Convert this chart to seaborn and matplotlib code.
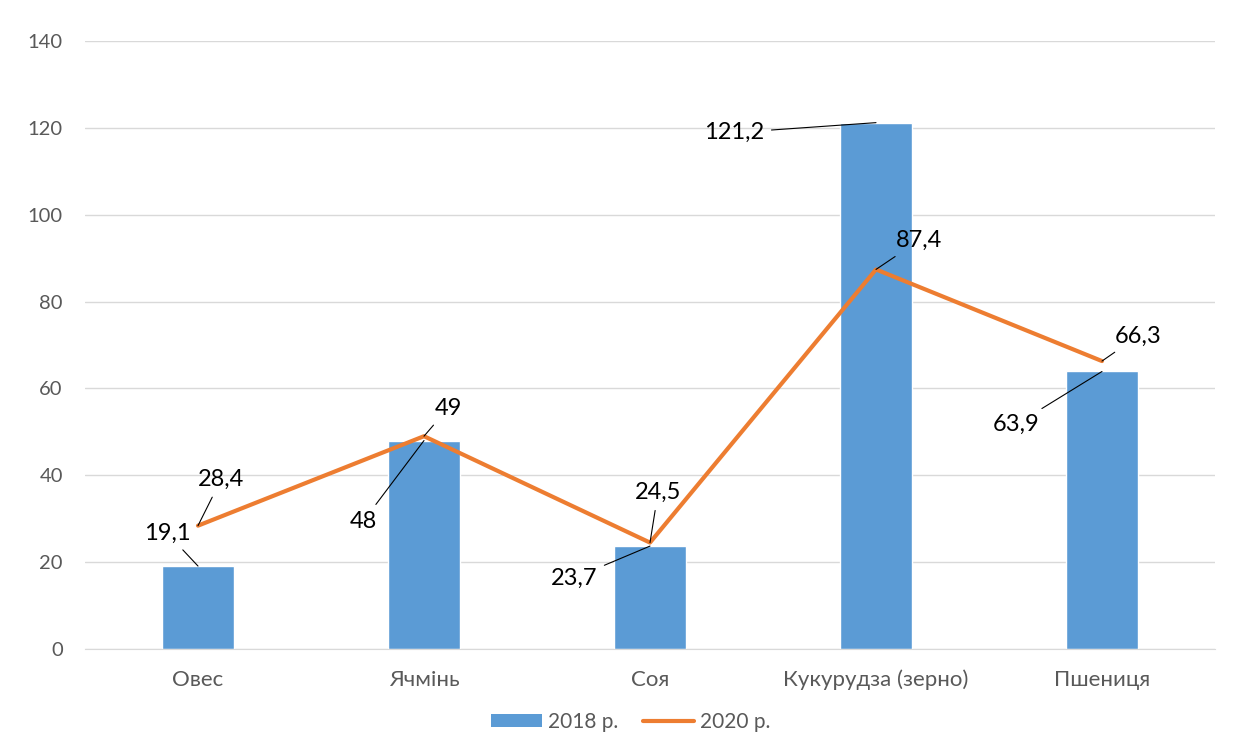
import numpy as np
import pandas as pd
import seaborn as sns
import matplotlib.pyplot as plt
from matplotlib.patches import Patch
from matplotlib.lines import Line2D

crops = ['Овес', 'Ячмінь', 'Соя', 'Кукурудза (зерно)', 'Пшениця']
values_2018 = [19.1, 48, 23.7, 121.2, 63.9]
values_2020 = [28.4, 49, 24.5, 87.4, 66.3]
labels_2018 = ['19,1', '48', '23,7', '121,2', '63,9']
labels_2020 = ['28,4', '49', '24,5', '87,4', '66,3']
series_names = ['2018 р.', '2020 р.']

# label offsets in pixels from the point (dx, dy)
offsets_2018 = [(-31, 33), (-61, -81), (-76, -32), (-142, -10), (-86, -53)]
offsets_2020 = [(23, 46), (24, 28), (8, 50), (43, 29), (36, 25)]

blue = '#5B9BD5'
orange = '#ED7D31'
grey = '#595959'

sns.set_style('white')
plt.rcParams['font.family'] = ['Lato', 'Open Sans', 'DejaVu Sans']

df = pd.DataFrame({'crop': crops, 'v2018': values_2018, 'v2020': values_2020})
df['pos'] = np.arange(len(crops))

fig = plt.figure(figsize=(12.41, 7.51), dpi=100)
ax = fig.add_axes([85 / 1241, 102 / 751, 1130 / 1241, 608 / 751])

sns.barplot(data=df, x='crop', y='v2018', color=blue, width=0.315,
            saturation=1, ax=ax, zorder=2)
sns.lineplot(data=df, x='pos', y='v2020', color=orange, linewidth=3,
             sort=False, ax=ax, zorder=3)

ax.set_xlim(-0.5, len(crops) - 0.5)
ax.set_ylim(0, 140)
ax.set_yticks(np.arange(0, 141, 20))
ax.set_xticks(df['pos'])
ax.set_xticklabels(crops)
ax.yaxis.grid(True, color='#D9D9D9', linewidth=1)
ax.set_axisbelow(True)
for s in ['top', 'right', 'left']:
    ax.spines[s].set_visible(False)
ax.spines['bottom'].set_color('#D9D9D9')
ax.tick_params(axis='both', length=0, labelcolor=grey)
ax.tick_params(axis='y', pad=16, labelsize=14.5)
ax.tick_params(axis='x', pad=15, labelsize=16)
ax.set_xlabel('')
ax.set_ylabel('')

for i, (v, lab, off) in enumerate(zip(values_2018, labels_2018, offsets_2018)):
    ax.annotate(lab, xy=(i, v), xytext=off, textcoords='offset pixels',
                ha='center', va='center', fontsize=17, color='black',
                arrowprops=dict(arrowstyle='-', color='black', lw=0.8,
                                shrinkA=3, shrinkB=0))
for i, (v, lab, off) in enumerate(zip(values_2020, labels_2020, offsets_2020)):
    ax.annotate(lab, xy=(i, v), xytext=off, textcoords='offset pixels',
                ha='center', va='center', fontsize=17, color='black',
                arrowprops=dict(arrowstyle='-', color='black', lw=0.8,
                                shrinkA=3, shrinkB=0))

handles = [Patch(facecolor=blue, edgecolor='none'),
           Line2D([0], [0], color=orange, linewidth=3)]
ax.legend(handles, series_names, loc='center', bbox_to_anchor=(0.483, -0.12),
          ncol=2, frameon=False, fontsize=15, labelcolor=grey,
          handlelength=2.45, handleheight=0.6, columnspacing=1.15, handletextpad=0.3)

fig.savefig('out.png', dpi=100)
